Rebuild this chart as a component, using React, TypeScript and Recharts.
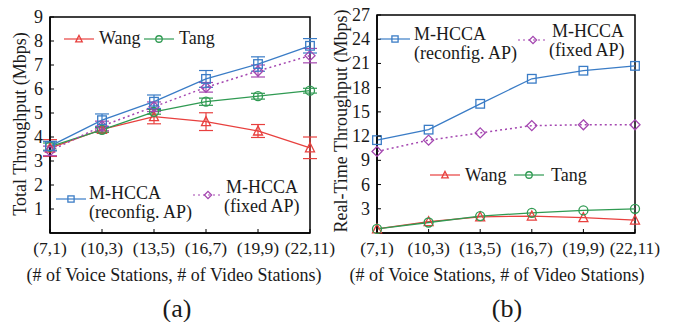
import React from 'react';
import { LineChart, Line, XAxis, YAxis, ErrorBar, ReferenceArea } from 'recharts';

const categories = ['(7,1)', '(10,3)', '(13,5)', '(16,7)', '(19,9)', '(22,11)'];

const totalReconfig = [3.62, 4.7, 5.47, 6.42, 7.04, 7.8];
const totalReconfigErr = [0.2, 0.26, 0.28, 0.35, 0.3, 0.3];
const totalFixed = [3.42, 4.46, 5.26, 6.07, 6.75, 7.39];
const totalFixedErr = [0.2, 0.2, 0.2, 0.2, 0.25, 0.3];
const totalTang = [3.6, 4.3, 5.05, 5.47, 5.7, 5.93];
const totalTangErr = [0.15, 0.1, 0.1, 0.15, 0.12, 0.1];
const totalWang = [3.54, 4.32, 4.85, 4.64, 4.25, 3.55];
const totalWangErr = [0.35, 0.12, 0.3, 0.37, 0.27, 0.45];

const rtReconfig = [11.5, 12.8, 16.0, 19.1, 20.1, 20.7];
const rtFixed = [10.1, 11.5, 12.4, 13.3, 13.4, 13.4];
const rtWang = [0.5, 1.4, 2.0, 2.1, 1.9, 1.6];
const rtTang = [0.5, 1.3, 2.1, 2.5, 2.8, 3.0];

const leftTicks = [1, 2, 3, 4, 5, 6, 7, 8, 9];
const rightTicks = [3, 6, 9, 12, 15, 18, 21, 24, 27];

const RED = '#e8403e';
const GREEN = '#2f9a52';
const BLUE = '#3a7cc6';
const PURPLE = '#a446b0';
const FONT = "'Liberation Serif', 'Times New Roman', Times, serif";
const TXT = '#1a1a1a';

const totalData = categories.map((c, i) => ({
  cat: c,
  reconfig: totalReconfig[i],
  reconfigErr: totalReconfigErr[i],
  fixed: totalFixed[i],
  fixedErr: totalFixedErr[i],
  tang: totalTang[i],
  tangErr: totalTangErr[i],
  wang: totalWang[i],
  wangErr: totalWangErr[i],
}));

const rtData = categories.map((c, i) => ({
  cat: c,
  reconfig: rtReconfig[i],
  fixed: rtFixed[i],
  wang: rtWang[i],
  tang: rtTang[i],
}));

function shapeEl(kind: string, cx: number, cy: number, color: string, key?: any, k: number = 1) {
  const s = 4.3 * k;
  const sw = 1.3;
  if (kind === 'square')
    return <rect key={key} x={cx - s} y={cy - s} width={2 * s} height={2 * s} fill="none" stroke={color} strokeWidth={sw} />;
  if (kind === 'circle')
    return <circle key={key} cx={cx} cy={cy} r={4.5 * k} fill="none" stroke={color} strokeWidth={sw} />;
  if (kind === 'triangle')
    return <polygon key={key} points={`${cx},${cy - 5 * k} ${cx - 4.5 * k},${cy + 4 * k} ${cx + 4.5 * k},${cy + 4 * k}`} fill="none" stroke={color} strokeWidth={sw} />;
  return <polygon key={key} points={`${cx},${cy - 5 * k} ${cx + 5 * k},${cy} ${cx},${cy + 5 * k} ${cx - 5 * k},${cy}`} fill="none" stroke={color} strokeWidth={sw} />;
}

const makeDot = (kind: string, color: string) => (p: any) => shapeEl(kind, p.cx, p.cy, color, p.index);

const textStyle = { fontFamily: FONT };

const YTick = (p: any) => (
  <g>
    <line x1={p.x} x2={p.x + 4} y1={p.y} y2={p.y} stroke="#000" strokeWidth={1} />
    <text x={p.x - 7} y={p.y} textAnchor="end" dominantBaseline="central" fontSize={18} style={textStyle} fill={TXT}>
      {p.payload.value}
    </text>
  </g>
);

const XTick = (p: any) => (
  <g>
    <line x1={p.x} x2={p.x} y1={p.y} y2={p.y - 4} stroke="#000" strokeWidth={1} />
    <text x={p.x} y={p.y + 15} textAnchor="middle" dominantBaseline="central" fontSize={17.5} style={textStyle} fill={TXT}>
      {p.payload.value}
    </text>
  </g>
);

function LegendItem({ x, y, color, kind, dashed }: any) {
  return (
    <g>
      <line x1={x} x2={x + 30} y1={y} y2={y} stroke={color} strokeWidth={1.2} strokeDasharray={dashed ? '2 3' : undefined} />
      {shapeEl(kind, x + 15, y, color, undefined, 0.72)}
    </g>
  );
}

const T = (props: any) => (
  <text style={textStyle} fill={TXT} dominantBaseline="central" {...props} />
);

function T2({ x1, y1, x2, y2, a, b }: any) {
  return (
    <text style={textStyle} fill={TXT} fontSize={18} dominantBaseline="central">
      <tspan x={x1} y={y1}>{a}</tspan>
      <tspan x={x2} y={y2}>{b}</tspan>
    </text>
  );
}

export default function App() {
  return (
    <div style={{ position: 'absolute', left: 0, top: 0, width: 678, height: 322, background: '#fff', fontFamily: FONT }}>
      <div style={{ position: 'absolute', left: 0, top: 0 }}>
        <LineChart width={340} height={322} data={totalData} margin={{ top: 17, right: 30, bottom: 59, left: 0 }}>
          <XAxis dataKey="cat" height={30} tickSize={0} tickMargin={0} tick={<XTick />} axisLine={{ stroke: '#000', strokeWidth: 1.5 }} tickLine={false} interval={0} />
          <YAxis width={50} domain={[0, 9]} ticks={leftTicks} tickSize={0} tickMargin={0} tick={<YTick />} axisLine={{ stroke: '#000', strokeWidth: 1.5 }} tickLine={false} />
          <ReferenceArea x1="(7,1)" x2="(22,11)" y1={0} y2={9} fill="none" stroke="#000" strokeWidth={1.5} fillOpacity={0} ifOverflow="visible" />
          <Line dataKey="wang" stroke={RED} strokeWidth={1.3} dot={makeDot('triangle', RED)} isAnimationActive={false}>
            <ErrorBar dataKey="wangErr" width={7} stroke={RED} strokeWidth={1.2} direction="y" />
          </Line>
          <Line dataKey="tang" stroke={GREEN} strokeWidth={1.3} dot={makeDot('circle', GREEN)} isAnimationActive={false}>
            <ErrorBar dataKey="tangErr" width={7} stroke={GREEN} strokeWidth={1.2} direction="y" />
          </Line>
          <Line dataKey="fixed" stroke={PURPLE} strokeWidth={1.5} strokeDasharray="2 3" dot={makeDot('diamond', PURPLE)} isAnimationActive={false}>
            <ErrorBar dataKey="fixedErr" width={7} stroke={PURPLE} strokeWidth={1.2} direction="y" />
          </Line>
          <Line dataKey="reconfig" stroke={BLUE} strokeWidth={1.3} dot={makeDot('square', BLUE)} isAnimationActive={false}>
            <ErrorBar dataKey="reconfigErr" width={7} stroke={BLUE} strokeWidth={1.2} direction="y" />
          </Line>
        </LineChart>
      </div>
      <div style={{ position: 'absolute', left: 330, top: 0 }}>
        <LineChart width={348} height={322} data={rtData} margin={{ top: 15, right: 43, bottom: 59, left: 0 }}>
          <XAxis dataKey="cat" height={30} tickSize={0} tickMargin={0} tick={<XTick />} axisLine={{ stroke: '#000', strokeWidth: 1.5 }} tickLine={false} interval={0} />
          <YAxis width={47} domain={[0, 27]} ticks={rightTicks} tickSize={0} tickMargin={0} tick={<YTick />} axisLine={{ stroke: '#000', strokeWidth: 1.5 }} tickLine={false} />
          <ReferenceArea x1="(7,1)" x2="(22,11)" y1={0} y2={27} fill="none" stroke="#000" strokeWidth={1.5} fillOpacity={0} ifOverflow="visible" />
          <Line dataKey="wang" stroke={RED} strokeWidth={1.3} dot={makeDot('triangle', RED)} isAnimationActive={false} />
          <Line dataKey="tang" stroke={GREEN} strokeWidth={1.3} dot={makeDot('circle', GREEN)} isAnimationActive={false} />
          <Line dataKey="fixed" stroke={PURPLE} strokeWidth={1.5} strokeDasharray="2 3" dot={makeDot('diamond', PURPLE)} isAnimationActive={false} />
          <Line dataKey="reconfig" stroke={BLUE} strokeWidth={1.3} dot={makeDot('square', BLUE)} isAnimationActive={false} />
        </LineChart>
      </div>
      <svg width={678} height={322} style={{ position: 'absolute', left: 0, top: 0, pointerEvents: 'none' }}>
        <T x={20} y={124} fontSize={18} textAnchor="middle" transform="rotate(-90 20 124)">Total Throughput (Mbps)</T>
        <T x={341} y={121} fontSize={18} textAnchor="middle" transform="rotate(-90 341 121)">Real-Time Throughput (Mbps)</T>
        <T x={174} y={275} fontSize={18} textAnchor="middle">(# of Voice Stations, # of Video Stations)</T>
        <T x={497} y={275} fontSize={18} textAnchor="middle">(# of Voice Stations, # of Video Stations)</T>
        <T x={177} y={308} fontSize={26} textAnchor="middle">(a)</T>
        <T x={507} y={308} fontSize={26} textAnchor="middle">(b)</T>

        <LegendItem x={64} y={39} color={RED} kind="triangle" />
        <T x={99} y={38} fontSize={18}>Wang</T>
        <LegendItem x={144} y={39} color={GREEN} kind="circle" />
        <T x={179} y={38} fontSize={18}>Tang</T>
        <LegendItem x={56} y={199} color={BLUE} kind="square" />
        <T2 x1={89} y1={193} x2={89} y2={212} a="M-HCCA" b="(reconfig. AP)" />
        <LegendItem x={193} y={195} color={PURPLE} kind="diamond" dashed />
        <T2 x1={226} y1={187} x2={224} y2={206} a="M-HCCA" b="(fixed AP)" />

        <LegendItem x={380} y={39} color={BLUE} kind="square" />
        <T2 x1={414} y1={34} x2={414} y2={53} a="M-HCCA" b="(reconfig. AP)" />
        <LegendItem x={518} y={40} color={PURPLE} kind="diamond" dashed />
        <T2 x1={552} y1={31} x2={549} y2={50} a="M-HCCA" b="(fixed AP)" />
        <LegendItem x={430} y={175} color={RED} kind="triangle" />
        <T x={465} y={175} fontSize={18}>Wang</T>
        <LegendItem x={514} y={175} color={GREEN} kind="circle" />
        <T x={551} y={175} fontSize={18}>Tang</T>
      </svg>
    </div>
  );
}
